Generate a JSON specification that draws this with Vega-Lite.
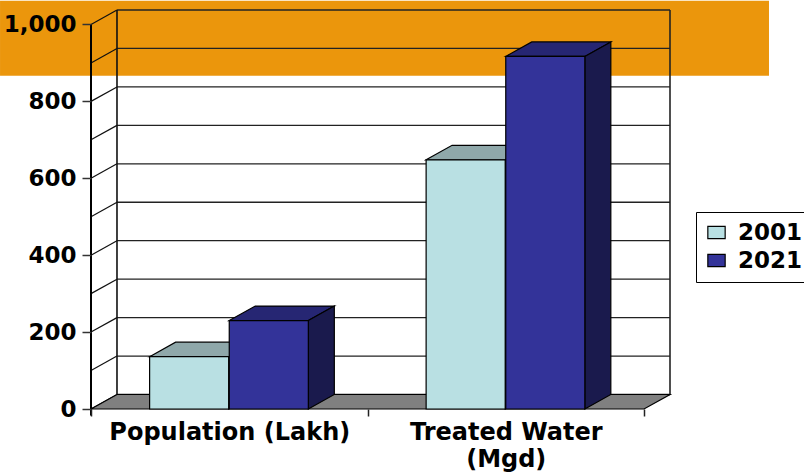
{
"$schema":"https://vega.github.io/schema/vega-lite/v6.json",
"width":579,"height":399,
"padding":{"left":91,"top":10,"right":134,"bottom":63},
"autosize":{"type":"none"},
"background":"white",
"config":{"view":{"stroke":null},"font":"DejaVu Sans"},
"datasets":{
"bars":[
{"category":"Population (Lakh)","year":"2001","value":136},
{"category":"Population (Lakh)","year":"2021","value":230},
{"category":"Treated Water (Mgd)","year":"2001","value":648},
{"category":"Treated Water (Mgd)","year":"2021","value":917}
],
"levels":[{"level":0},{"level":100},{"level":200},{"level":300},{"level":400},{"level":500},{"level":600},{"level":700},{"level":800},{"level":900},{"level":1000}]
},
"layer":[
{"data":{"values":[{}]},
 "mark":{"type":"rect","fill":"#EB960C","clip":false},
 "encoding":{
  "x":{"datum":-0.329,"type":"quantitative","scale":{"domain":[0,2.094],"nice":false,"zero":false},
   "axis":{"values":[0,0.5,1,1.5,2],"title":null,"grid":false,"domain":false,"tickSize":7,"tickColor":"#222","tickWidth":1.5,"zindex":1,
    "tickOpacity":{"condition":{"test":"datum.value % 1 == 0","value":1},"value":0},
    "labelFont":"DejaVu Sans","labelFontWeight":"bold","labelFontSize":24,"labelColor":"black","labelPadding":4,"labelLineHeight":27,"labelLimit":500,"labelOverlap":false,"labelBound":false,"labelFlush":false,
    "labelExpr":"datum.value == 0.5 ? 'Population (Lakh)' : datum.value == 1.5 ? ['Treated Water','(Mgd)'] : ''"}},
  "x2":{"datum":2.452},
  "y":{"datum":867,"type":"quantitative","scale":{"domain":[0,1037.7],"nice":false,"zero":false},
   "axis":{"values":[0,100,200,300,400,500,600,700,800,900,1000],"title":null,"grid":false,"domain":false,"tickSize":9,"tickColor":"#333","tickWidth":1.5,"zindex":1,"labelFontWeight":"bold",
    "labelFont":"DejaVu Sans","labelFontSize":23,"labelColor":"black","labelPadding":6,"labelOverlap":false,"labelBound":false,"labelFlush":false}},
  "y2":{"datum":1062}
 }},
{"data":{"name":"levels"},
 "transform":[{"calculate":"datum.level + 37.7","as":"back"}],
 "mark":{"type":"rule","stroke":"#111","strokeWidth":1.2},
 "encoding":{"x":{"datum":0,"type":"quantitative"},"x2":{"datum":0.094},"y":{"field":"level","type":"quantitative"},"y2":{"field":"back"}}},
{"data":{"name":"levels"},
 "transform":[{"calculate":"datum.level + 37.7","as":"back"}],
 "mark":{"type":"rule","stroke":"#222","strokeWidth":1.3},
 "encoding":{"x":{"datum":0.094,"type":"quantitative"},"x2":{"datum":2.094},"y":{"field":"back","type":"quantitative"}}},
{"data":{"values":[{}]},
 "mark":{"type":"rule","stroke":"#111","strokeWidth":1.6},
 "encoding":{"x":{"datum":0.094,"type":"quantitative"},"y":{"datum":37.7,"type":"quantitative"},"y2":{"datum":1037.7}}},
{"data":{"values":[{}]},
 "mark":{"type":"rule","stroke":"#222","strokeWidth":1.6},
 "encoding":{"x":{"datum":2.094,"type":"quantitative"},"y":{"datum":37.7,"type":"quantitative"},"y2":{"datum":1037.7}}},
{"data":{"values":[{}]},
 "mark":{"type":"rule","stroke":"black","strokeWidth":2},
 "encoding":{"x":{"datum":0,"type":"quantitative"},"y":{"datum":-17,"type":"quantitative"},"y2":{"datum":1000}}},
{"data":{"name":"levels"},
 "transform":[{"filter":"datum.level == 0"},{"calculate":"[0,1,2,3]","as":"pts"},{"flatten":["pts"],"as":["pt"]},
  {"calculate":"[0,0.094,2,2.094][datum.pt]","as":"px"},
  {"calculate":"datum.pt > 0 ? 37.7 : 0","as":"upper"},
  {"calculate":"datum.pt == 3 ? 37.7 : 0","as":"lower"}],
 "mark":{"type":"area","fill":"#808080","stroke":"black","strokeWidth":1.2,"opacity":1},
 "encoding":{"x":{"field":"px","type":"quantitative"},"y":{"field":"upper","type":"quantitative"},"y2":{"field":"lower"}}},
{"data":{"name":"bars"},
 "transform":[
  {"calculate":"(datum.category == 'Population (Lakh)' ? 0 : 1) + (datum.year == '2001' ? 0.212 : 0.5)","as":"x0"},
  {"calculate":"[0,0.094,0.286,0.38]","as":"pts"},{"flatten":["pts"],"as":["off"]},
  {"calculate":"datum.x0 + datum.off","as":"px"},
  {"calculate":"datum.value + (datum.off > 0 ? 37.7 : 0)","as":"upper"},
  {"calculate":"datum.value + (datum.off == 0.38 ? 37.7 : 0)","as":"lower"}],
 "mark":{"type":"area","stroke":"black","strokeWidth":1.2,"opacity":1},
 "encoding":{"x":{"field":"px","type":"quantitative"},"y":{"field":"upper","type":"quantitative"},"y2":{"field":"lower"},
  "detail":{"field":"category"},
  "fill":{"field":"year","type":"nominal","legend":null,"scale":{"domain":["2001","2021"],"range":["#8FA8AA","#262673"]}}}},
{"data":{"name":"bars"},
 "transform":[
  {"calculate":"(datum.category == 'Population (Lakh)' ? 0 : 1) + (datum.year == '2001' ? 0.212 : 0.5) + 0.286","as":"x1"},
  {"calculate":"[0,0.094]","as":"pts"},{"flatten":["pts"],"as":["off"]},
  {"calculate":"datum.x1 + datum.off","as":"px"},
  {"calculate":"datum.value + (datum.off > 0 ? 37.7 : 0)","as":"upper"},
  {"calculate":"datum.off > 0 ? 37.7 : 0","as":"lower"}],
 "mark":{"type":"area","stroke":"black","strokeWidth":1.2,"opacity":1},
 "encoding":{"x":{"field":"px","type":"quantitative"},"y":{"field":"upper","type":"quantitative"},"y2":{"field":"lower"},
  "detail":{"field":"category"},
  "fill":{"field":"year","type":"nominal","legend":null,"scale":{"domain":["2001","2021"],"range":["#6E8486","#1A1A4D"]}}}},
{"data":{"name":"bars"},
 "transform":[
  {"calculate":"(datum.category == 'Population (Lakh)' ? 0 : 1) + (datum.year == '2001' ? 0.212 : 0.5)","as":"x0"},
  {"calculate":"datum.x0 + 0.286","as":"x1"}],
 "mark":{"type":"rect","stroke":"black","strokeWidth":1.2},
 "encoding":{"x":{"field":"x0","type":"quantitative"},"x2":{"field":"x1"},"y":{"field":"value","type":"quantitative"},"y2":{"datum":0},
  "fill":{"field":"year","type":"nominal","scale":{"domain":["2001","2021"],"range":["#B9E0E3","#333399"]},
   "legend":{"orient":"none","legendX":605,"legendY":202,"title":null,"padding":9,"strokeColor":"black","fillColor":"white",
    "symbolType":"M-1,-0.7H1V0.7H-1Z","symbolSize":300,"symbolStrokeColor":"black","symbolStrokeWidth":1.2,"symbolOpacity":1,
    "labelFont":"DejaVu Sans","labelFontWeight":"bold","labelFontSize":23,"labelColor":"black","labelOffset":10,"rowPadding":4}}}}
],
"resolve":{"scale":{"fill":"independent"}}
}
